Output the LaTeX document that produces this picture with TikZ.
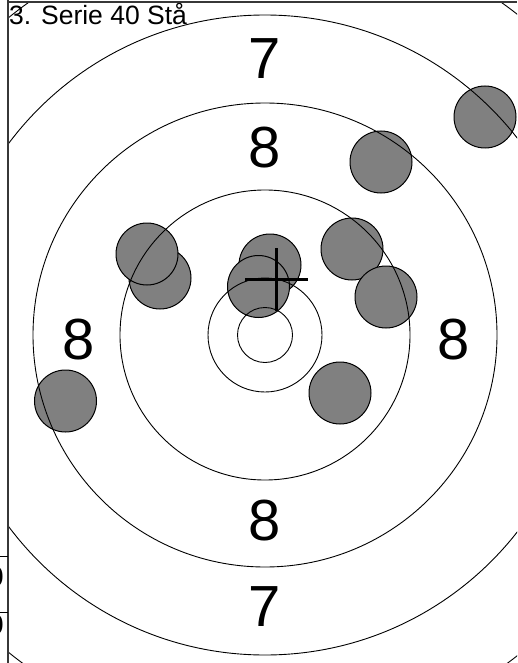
\documentclass[tikz,border=0pt]{standalone}
\usepackage{fontspec}
\setmainfont{Liberation Sans}
\definecolor{holegray}{RGB}{128,128,128}
\definecolor{framegray}{RGB}{55,55,55}

\begin{document}
\begin{tikzpicture}[x=1pt,y=-1pt,
  ring/.style={draw=black,line width=0.9pt},
  hole/.style={circle,draw=black,fill=holegray,line width=1pt,
               minimum size=62pt,inner sep=0pt},
  score/.style={font=\fontsize{58}{60}\selectfont,inner sep=0pt},
  caption/.style={font=\fontsize{26.5}{29}\selectfont,inner sep=0pt,anchor=base west},
  tablefig/.style={font=\fontsize{28}{30}\selectfont,inner sep=0pt,anchor=east},
  aimline/.style={line width=2.6pt,black},
  frameline/.style={line width=1.4pt,framegray}]

  \useasboundingbox (0,0) rectangle (517,663);
  \clip (0,0) rectangle (517,663);

  \coordinate (ctr) at (265,335);

  \begin{scope}
    \clip (8,2) rectangle (517,663);
    % shots
    \node[hole] (h1) at (485,117) {};
    \node[hole] (h2) at (381,162) {};
    \node[hole] (h3) at (160,278) {};
    \node[hole] (h4) at (147,254) {};
    \node[hole] (h5) at (270,265) {};
    \node[hole] (h6) at (258.5,286.5) {};
    \node[hole] (h7) at (352,249) {};
    \node[hole] (h8) at (386,297) {};
    \node[hole] (h9) at (340,393) {};
    \node[hole] (h10) at (65.5,401) {};

    % rings
    \draw[ring] (ctr) circle (27.5);
    \draw[ring] (ctr) circle (57);
    \draw[ring] (ctr) circle (145);
    \draw[ring] (ctr) circle (232);
    \draw[ring] (ctr) circle (320);
    \draw[ring] (ctr) circle (408);
  \end{scope}

  % ring values
  \node[score] (v7t) at (265,59) {7};
  \node[score] (v8t) at (265,148) {8};
  \node[score] (v8l) at (79,340) {8};
  \node[score] (v8r) at (454,340) {8};
  \node[score] (v8b) at (265,521) {8};
  \node[score] (v7b) at (265,607) {7};

  % mean point of impact
  \coordinate (mpi) at (276.5,279.5);
  \draw[aimline] ([xshift=-31.5pt]mpi) -- ([xshift=31.5pt]mpi);
  \draw[aimline] ([yshift=31.5pt]mpi) -- ([yshift=-31.5pt]mpi);

  \node[caption] (ser) at (9,25) {3. Serie 40 Stå};

  % frame and score table edge
  \draw[frameline] (8,0) -- (8,663);
  \draw[frameline] (8,2) -- (517,2);
  \draw[thin] (0,556) -- (8,556);
  \draw[thin] (0,612) -- (8,612);
  \node[tablefig] (t1) at (4,577) {0};
  \node[tablefig] (t2) at (4,625) {0};
\end{tikzpicture}
\end{document}
